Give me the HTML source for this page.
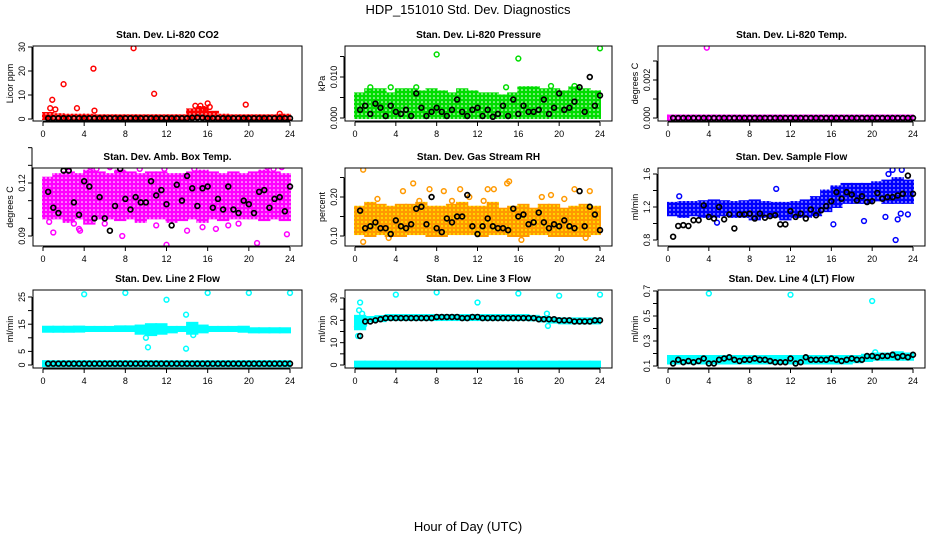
<!DOCTYPE html>
<html><head><meta charset="utf-8"><style>
html,body{margin:0;padding:0;background:#fff;}
svg{display:block;font-family:"Liberation Sans",sans-serif;}
</style></head><body>
<svg id="c" width="936" height="540" viewBox="0 0 936 540" xmlns="http://www.w3.org/2000/svg">
<defs>
<pattern id="pat-red" width="4" height="4" patternUnits="userSpaceOnUse"><rect width="4" height="4" fill="#ff0000"/><circle cx="2" cy="2" r="0.7" fill="#fff"/></pattern>
<pattern id="pat-green" width="4" height="4" patternUnits="userSpaceOnUse"><rect width="4" height="4" fill="#00dd00"/><circle cx="2" cy="2" r="0.8" fill="#fff"/></pattern>
<pattern id="pat-magenta" width="4" height="4" patternUnits="userSpaceOnUse"><rect width="4" height="4" fill="#ff00ff"/><circle cx="2" cy="2" r="0.8" fill="#fff"/></pattern>
<pattern id="pat-orange" width="4" height="4" patternUnits="userSpaceOnUse"><rect width="4" height="4" fill="#ff9900"/><circle cx="2" cy="2" r="0.9" fill="#ffff00"/></pattern>
<pattern id="pat-blue" width="4" height="4" patternUnits="userSpaceOnUse"><rect width="4" height="4" fill="#0000ff"/><circle cx="2" cy="2" r="0.7" fill="#fff"/></pattern>
<pattern id="pat-cyan" width="4" height="4" patternUnits="userSpaceOnUse"><rect width="4" height="4" fill="#00ffff"/></pattern>
</defs>
<text x="468" y="14" font-size="13" text-anchor="middle">HDP_151010  Std. Dev. Diagnostics</text>
<text x="468" y="531" font-size="13" text-anchor="middle">Hour of Day (UTC)</text>
</svg>
<script>
// ---- panel 1: CO2 ----
const co2BandLo=[0,0,0,0,0,0,0,0,0,0,0,0,0,0,0,0,0,0,0,0,0,0,0,0];
const co2BandHi=[2.5,2,1.5,1.5,1.5,1,1,1,1,1,1,1,1,1,4,5,3,1.5,1,1,1,1,1,1.5];
const co2OutH=[0.9,0.7,1.2,2.0,3.3,4.9,5.0,8.8,10.8,16.0,16.2,19.7,23,14.8,15.3,15.6];
const co2OutV=[8,4.5,4,14.5,4.5,21,3.5,29.5,10.5,6.5,5,6,2.2,5.5,5.5,4];
const co2Black=[0.3,0.3,0.3,0.3,0.3,0.3,0.3,0.3,0.3,0.3,0.3,0.3,0.3,0.3,0.3,0.3,0.3,0.3,0.3,0.3,0.3,0.3,0.3,0.3,0.3,0.3,0.3,0.3,0.5,0.6,0.5,0.3,0.3,0.3,0.3,0.3,0.3,0.3,0.3,0.3,0.3,0.3,0.3,0.3,0.3,0.3,0.3,0.3];
// ---- panel 2: pressure ----
const prBandLo=[0,0,0,0,0,0,0,0,0,0,0,0,0,0,0,0,0,0,0,0,0,0,0,0];
const prBandHi=[0.006,0.007,0.007,0.006,0.007,0.007,0.0065,0.007,0.0065,0.006,0.007,0.0065,0.006,0.006,0.0055,0.006,0.0075,0.0075,0.007,0.007,0.0065,0.0075,0.007,0.0065];
const prOutH=[8,16,24,6.0,1.5,3.5,14.8,19.2,21.5];
const prOutV=[0.0155,0.0145,0.017,0.0075,0.0075,0.0075,0.0075,0.0078,0.0078];
const prBlack=[0.002,0.003,0.001,0.0035,0.0025,0.0005,0.003,0.0015,0.001,0.002,0.0005,0.006,0.0025,0.0005,0.0015,0.0025,0.0015,0.0005,0.002,0.0045,0.0015,0.0005,0.002,0.0025,0.0005,0.002,0.0003,0.001,0.003,0.0005,0.0045,0.001,0.003,0.0015,0.0015,0.002,0.0045,0.001,0.0025,0.006,0.002,0.0025,0.004,0.0075,0.0015,0.010,0.003,0.0055];
// ---- panel 3: Li-820 temp ----
const tBandLo=[0,0,0,0,0,0,0,0,0,0,0,0,0,0,0,0,0,0,0,0,0,0,0,0];
const tBandHi=[0,0,0,0,0,0,0,0,0,0,0,0,0,0,0,0,0,0,0,0,0,0,0,0];
const tOutH=[3.8];
const tOutV=[0.0037];
const tBlack=[0,0,0,0,0,0,0,0,0,0,0,0,0,0,0,0,0,0,0,0,0,0,0,0,0,0,0,0,0,0,0,0,0,0,0,0,0,0,0,0,0,0,0,0,0,0,0,0];
// ---- panel 4: amb box temp ----
const abBandLo=[0.100,0.100,0.098,0.100,0.097,0.100,0.100,0.099,0.100,0.098,0.100,0.100,0.098,0.099,0.100,0.098,0.100,0.099,0.100,0.100,0.100,0.099,0.100,0.099];
const abBandHi=[0.123,0.125,0.126,0.125,0.127,0.126,0.125,0.127,0.126,0.125,0.126,0.126,0.125,0.125,0.126,0.127,0.126,0.125,0.126,0.125,0.126,0.127,0.126,0.125];
const abOutH=[1.0,3.5,3.6,7.7,8.7,8.8,10.2,10.3,12.0,14.0,15.5,16.1,16.8,18.5,20.5,20.8,22.4,23.7,11.8,13.4,6.5,5.2,19.0,0.6,2.5,4.6,9.4,11.0,14.7,17.3,21.8,23.2,3.0,6.0,13.0,18.0];
const abOutV=[0.092,0.094,0.093,0.090,0.140,0.135,0.134,0.137,0.085,0.093,0.095,0.130,0.094,0.132,0.134,0.086,0.128,0.091,0.128,0.130,0.129,0.128,0.097,0.098,0.129,0.129,0.128,0.096,0.128,0.130,0.129,0.129,0.097,0.097,0.130,0.096];
const abBlack=[0.115,0.106,0.103,0.127,0.127,0.109,0.102,0.121,0.118,0.100,0.112,0.100,0.093,0.107,0.128,0.111,0.105,0.112,0.109,0.109,0.121,0.113,0.116,0.108,0.096,0.119,0.110,0.124,0.117,0.107,0.117,0.118,0.106,0.111,0.105,0.118,0.105,0.103,0.110,0.108,0.103,0.115,0.116,0.106,0.111,0.112,0.104,0.118];
// ---- panel 5: gas stream RH ----
const rhBandLo=[0.105,0.100,0.105,0.100,0.100,0.105,0.105,0.100,0.100,0.105,0.105,0.105,0.100,0.105,0.105,0.100,0.100,0.105,0.105,0.100,0.100,0.100,0.100,0.105];
const rhBandHi=[0.175,0.185,0.180,0.175,0.180,0.180,0.185,0.175,0.175,0.180,0.185,0.175,0.175,0.185,0.170,0.175,0.180,0.170,0.180,0.180,0.170,0.175,0.180,0.175];
const rhOutH=[0.8,0.8,5.7,4.7,7.3,8.7,10.3,13.0,13.6,14.9,15.1,21.5,23.0,2.2,18.3,19.2,3.3,6.3,11.2,16.3,20.5,22.6,9.5,12.6];
const rhOutV=[0.27,0.085,0.235,0.215,0.22,0.215,0.22,0.22,0.22,0.235,0.24,0.22,0.215,0.195,0.20,0.205,0.095,0.19,0.20,0.09,0.195,0.095,0.19,0.19];
const rhBlack=[0.165,0.12,0.125,0.135,0.12,0.12,0.105,0.14,0.125,0.12,0.13,0.17,0.175,0.13,0.20,0.12,0.11,0.145,0.135,0.15,0.15,0.205,0.125,0.105,0.125,0.145,0.125,0.12,0.12,0.115,0.17,0.15,0.155,0.13,0.135,0.16,0.135,0.12,0.13,0.125,0.14,0.125,0.12,0.215,0.125,0.175,0.155,0.115];
// ---- panel 6: sample flow ----
const sfBandLo=[1.10,1.08,1.10,1.08,1.08,1.10,1.08,1.08,1.05,1.08,1.08,1.05,1.08,1.08,1.10,1.15,1.20,1.25,1.25,1.25,1.28,1.25,1.25,1.25];
const sfBandHi=[1.25,1.26,1.26,1.27,1.28,1.27,1.26,1.27,1.28,1.26,1.25,1.25,1.26,1.28,1.32,1.40,1.45,1.48,1.48,1.48,1.50,1.52,1.55,1.52];
const sfOutH=[1.1,4.8,10.6,16.2,19.2,21.3,22.3,22.5,22.8,23.5,21.6,22.0,22.9];
const sfOutV=[1.33,1.01,1.42,0.99,1.03,1.08,0.80,1.05,1.12,1.11,1.60,1.65,1.65];
const sfBlack=[0.84,0.97,0.98,0.97,1.04,1.04,1.22,1.08,1.06,1.20,1.05,1.11,0.94,1.11,1.11,1.12,1.06,1.12,1.07,1.09,1.10,0.99,0.99,1.15,1.08,1.12,1.06,1.17,1.10,1.16,1.21,1.27,1.38,1.30,1.38,1.35,1.28,1.33,1.26,1.27,1.37,1.30,1.32,1.32,1.34,1.36,1.58,1.36];
// ---- panel 7: line 2 flow ----
const l2BandLo=[12.5,12.5,12.5,12.5,12.5,12.5,12.5,12.5,12.5,11.5,11,11.5,12,12.5,11.5,12,12.5,12.5,12.5,12.5,12,12,12,12];
const l2BandHi=[13.8,13.8,13.8,13.9,14,14,14,14.2,14.2,14.5,15,15,14,14,15.5,14.5,14,14,14,13.8,13.5,13.5,13.5,13.5];
const l2OutH=[4,8,12,16,20,24,10,10.2,13.9,13.9,14.6];
const l2OutV=[26,26.5,24,26.5,26.5,26.5,10,6.5,18.5,6,11];
const l2Black=[0.5,0.5,0.5,0.5,0.5,0.5,0.5,0.5,0.5,0.5,0.5,0.5,0.5,0.5,0.5,0.5,0.5,0.5,0.5,0.5,0.5,0.5,0.5,0.5,0.5,0.5,0.5,0.5,0.5,0.5,0.5,0.5,0.5,0.5,0.5,0.5,0.5,0.5,0.5,0.5,0.5,0.5,0.5,0.5,0.5,0.5,0.5,0.5];
const l2ZeroLo=[0,0,0,0,0,0,0,0,0,0,0,0,0,0,0,0,0,0,0,0,0,0,0,0];
const l2ZeroHi=[1,1,1,1,1,1,1,1,1,1,1,1,1,1,1,1,1,1,1,1,1,1,1,1];
// ---- panel 8: line 3 flow ----
const l3BandLo=[16,19.5,20,20.5,20.5,20.5,20.5,20.5,20.5,20.5,20.5,20.5,20.5,20.5,20.5,20.5,20.5,20,19.5,19,19,19,19,19];
const l3BandHi=[22,21.5,21.5,22,22,22,22,22,22,22,22,22,22,22,22,22,22,22,21.5,21,20.5,20.5,20.5,20.5];
const l3OutH=[0.2,0.3,0.4,0.5,0.7,0.9,4,8,12,16,20,24,18.8,18.9];
const l3OutV=[17,13,24.5,28,23,18,31.5,32.5,28,32,31,31.5,23,17.5];
const l3Black=[13,19.5,19.5,20,20.5,21,21,21,21,21,21,21,21,21,21,21.5,21.5,21.5,21.5,21.5,21,21,21.5,21.5,21,21,21,21,21,21,21,21,21,21,21,20.5,20.5,20.5,20.5,20,20,20,19.5,19.5,19.5,19.5,20,20];
const l3ZeroLo=[0,0,0,0,0,0,0,0,0,0,0,0,0,0,0,0,0,0,0,0,0,0,0,0];
const l3ZeroHi=[0.8,0.8,0.8,0.8,0.8,0.8,0.8,0.8,0.8,0.8,0.8,0.8,0.8,0.8,0.8,0.8,0.8,0.8,0.8,0.8,0.8,0.8,0.8,0.8];
// ---- panel 9: line 4 flow ----
const l4BandLo=[0.12,0.12,0.12,0.12,0.12,0.12,0.12,0.12,0.12,0.12,0.12,0.12,0.12,0.12,0.12,0.12,0.12,0.12,0.13,0.14,0.15,0.15,0.15,0.15];
const l4BandHi=[0.18,0.18,0.18,0.18,0.18,0.18,0.18,0.18,0.18,0.18,0.18,0.18,0.18,0.18,0.18,0.18,0.18,0.18,0.18,0.19,0.20,0.20,0.21,0.20];
const l4OutH=[4,12,20,20.3];
const l4OutV=[0.68,0.67,0.62,0.21];
const l4Black=[0.12,0.15,0.13,0.14,0.13,0.14,0.16,0.12,0.12,0.15,0.16,0.17,0.15,0.14,0.15,0.15,0.16,0.15,0.15,0.14,0.13,0.13,0.13,0.16,0.12,0.13,0.17,0.15,0.15,0.15,0.15,0.16,0.15,0.14,0.15,0.16,0.15,0.15,0.18,0.18,0.17,0.18,0.18,0.19,0.17,0.18,0.17,0.19];

const svg=document.getElementById('c');
const NS='http://www.w3.org/2000/svg';
function mk(tag,attrs,parent){const e=document.createElementNS(NS,tag);for(const k in attrs)e.setAttribute(k,attrs[k]);(parent||svg).appendChild(e);return e;}

const colX=[[33,302,43,290],[345,612,355,600],[658,925,668,913]];
const rowY=[[46,121],[168,246],[290,368]];
const panels=[
 {t:'Stan. Dev. Li-820 CO2',yl:'Licor ppm',c:0,r:0,v0:0,p0:119,v1:30,p1:47,ticks:[0,10,20,30],labels:['0','10','20','30'],col:'#ff0000',pat:'pat-red',bands:[[co2BandLo,co2BandHi]],oh:co2OutH,ov:co2OutV,bk:co2Black},
 {t:'Stan. Dev. Li-820 Pressure',yl:'kPa',c:1,r:0,v0:0,p0:118,v1:0.01,p1:77,ticks:[0,0.005,0.01,0.015],labels:['0.000','','0.010',''],col:'#00dd00',pat:'pat-green',bands:[[prBandLo,prBandHi]],oh:prOutH,ov:prOutV,bk:prBlack},
 {t:'Stan. Dev. Li-820 Temp.',yl:'degrees C',c:2,r:0,v0:0,p0:118,v1:0.002,p1:80,ticks:[0,0.001,0.002,0.003],labels:['0.000','','0.002',''],col:'#ff00ff',pat:'pat-magenta',bands:[[tBandLo,tBandHi]],oh:tOutH,ov:tOutV,bk:tBlack},
 {t:'Stan. Dev. Amb. Box Temp.',yl:'degrees C',c:0,r:1,v0:0.09,p0:236,v1:0.12,p1:183,ticks:[0.09,0.10,0.11,0.12,0.13,0.14],labels:['0.09','','','0.12','',''],col:'#ff00ff',pat:'pat-magenta',bands:[[abBandLo,abBandHi]],oh:abOutH,ov:abOutV,bk:abBlack},
 {t:'Stan. Dev. Gas Stream RH',yl:'percent',c:1,r:1,v0:0.10,p0:236,v1:0.20,p1:197,ticks:[0.10,0.15,0.20,0.25],labels:['0.10','','0.20',''],col:'#ff9900',pat:'pat-orange',bands:[[rhBandLo,rhBandHi]],oh:rhOutH,ov:rhOutV,bk:rhBlack},
 {t:'Stan. Dev. Sample Flow',yl:'ml/min',c:2,r:1,v0:0.8,p0:240,v1:1.6,p1:174,ticks:[0.8,1.0,1.2,1.4,1.6],labels:['0.8','','1.2','','1.6'],col:'#0000ff',pat:'pat-blue',bands:[[sfBandLo,sfBandHi]],oh:sfOutH,ov:sfOutV,bk:sfBlack},
 {t:'Stan. Dev. Line 2 Flow',yl:'ml/min',c:0,r:2,v0:0,p0:365,v1:25,p1:297,ticks:[0,5,10,15,20,25],labels:['0','5','','15','','25'],col:'#00ffff',pat:'pat-cyan',bands:[[l2BandLo,l2BandHi],[l2ZeroLo,l2ZeroHi]],oh:l2OutH,ov:l2OutV,bk:l2Black},
 {t:'Stan. Dev. Line 3 Flow',yl:'ml/min',c:1,r:2,v0:0,p0:365,v1:30,p1:298,ticks:[0,5,10,15,20,25,30],labels:['0','','10','','20','','30'],col:'#00ffff',pat:'pat-cyan',bands:[[l3BandLo,l3BandHi],[l3ZeroLo,l3ZeroHi]],oh:l3OutH,ov:l3OutV,bk:l3Black},
 {t:'Stan. Dev. Line 4 (LT) Flow',yl:'ml/min',c:2,r:2,v0:0.1,p0:366,v1:0.7,p1:291,ticks:[0.1,0.2,0.3,0.4,0.5,0.6,0.7],labels:['0.1','','0.3','','0.5','','0.7'],col:'#00ffff',pat:'pat-cyan',bands:[[l4BandLo,l4BandHi]],oh:l4OutH,ov:l4OutV,bk:l4Black}
];
const xTicks=[0,4,8,12,16,20,24];

panels.forEach((p,i)=>{
  const [bl,br,x0,x24]=colX[p.c];const [bt,bb]=rowY[p.r];
  const xs=h=>x0+h*(x24-x0)/24;
  const ys=v=>p.p0+(v-p.v0)*(p.p1-p.p0)/(p.v1-p.v0);
  const g=mk('g',{});
  
  
  const clip=mk('clipPath',{id:'clip'+i},g);mk('rect',{x:bl,y:bt,width:br-bl,height:bb-bt},clip);
  const pg=mk('g',{'clip-path':'url(#clip'+i+')'},g);
  p.bands.forEach(([lo,hi])=>{
    lo.forEach((l,k)=>{
      let y1=ys(hi[k]),y2=ys(l);
      if(y2-y1<4){const m=(y1+y2)/2;y1=m-2.5;y2=m+2.5;}
      const r=mk('rect',{x:xs(k)-1,y:y1-1,width:xs(k+1)-xs(k)+2,height:y2-y1+2,fill:'url(#'+p.pat+')'},pg);
      
      
    });
  });
  p.oh.forEach((h,k)=>{
    const c=mk('circle',{cx:xs(h),cy:ys(p.ov[k]),r:2.4,fill:'none',stroke:p.col,'stroke-width':1.5},pg);
    
    
  });
  p.bk.forEach((v,k)=>{
    const c=mk('circle',{cx:xs((k+1)*0.5),cy:ys(v),r:2.4,fill:'none',stroke:'#000','stroke-width':1.7},pg);
    
    
  });
  const fr=mk('rect',{x:bl,y:bt,width:br-bl,height:bb-bt,fill:'none',stroke:'#000','stroke-width':1},g);
  
  
  const tt=mk('text',{x:(bl+br)/2,y:bt-8,'font-size':10,'font-weight':'bold','text-anchor':'middle'},g);tt.textContent=p.t;
  
  
  mk('line',{x1:xs(0),x2:xs(24),y1:bb+1,y2:bb+1,stroke:'#000'},g);
  xTicks.forEach(h=>{
    mk('line',{x1:xs(h),x2:xs(h),y1:bb+1,y2:bb+5,stroke:'#000'},g);
    const t=mk('text',{x:xs(h),y:bb+16,'font-size':9,'text-anchor':'middle'},g);t.textContent=h;
    
    
  });
  const yt=p.ticks.map(ys);
  mk('line',{x1:bl-1,x2:bl-1,y1:Math.min(...yt),y2:Math.max(...yt),stroke:'#000'},g);
  p.ticks.forEach((v,k)=>{
    const y=ys(v);
    mk('line',{x1:bl-5,x2:bl-1,y1:y,y2:y,stroke:'#000'},g);
    if(p.labels[k]){
      const t=mk('text',{x:bl-8,y:y,'font-size':9,'text-anchor':'middle',transform:'rotate(-90 '+(bl-8)+' '+y+')'},g);t.textContent=p.labels[k];
      
      
    }
  });
  const ym=(bt+bb)/2;
  const yl=mk('text',{x:bl-20,y:ym,'font-size':9,'text-anchor':'middle',transform:'rotate(-90 '+(bl-20)+' '+ym+')'},g);yl.textContent=p.yl;
  
  
});
</script>
</body></html>
